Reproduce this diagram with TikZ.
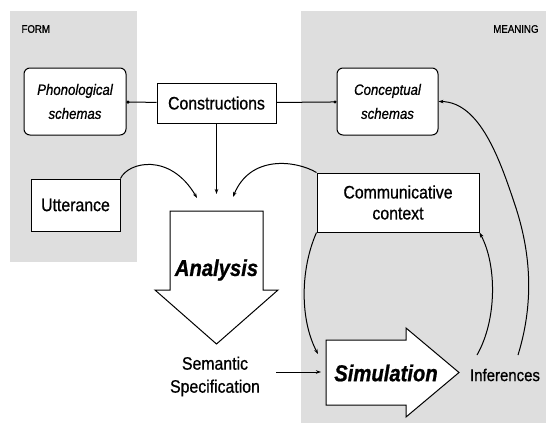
\documentclass[tikz,border=0pt]{standalone}
\usepackage{fontspec}
\setmainfont{Liberation Sans}[FakeStretch=0.88, FakeBold=0.8]
\usetikzlibrary{arrows.meta}

\begin{document}
\begin{tikzpicture}[x=1pt, y=-1pt, inner sep=1pt, line width=1pt, >={Stealth[length=5pt, width=3.5pt]}]
		\tikzstyle{every node}=[align=center]
		\tikzstyle{region}=[fill=black!13]
		\tikzstyle{box}=[draw, fill=white]
		\tikzstyle{schema}=[box, rounded corners=6pt, font=\fontsize{15}{24}\selectfont\itshape]
		\tikzstyle{plain}=[font=\fontsize{18}{21}\selectfont]
		\tikzstyle{big}=[font=\fontsize{23}{23}\selectfont\bfseries\itshape]
		\tikzstyle{small}=[font=\fontsize{11}{11}\selectfont]
			\useasboundingbox (0,0) rectangle (548,423);
			% form and meaning
			\fill[region] (10,11) rectangle (137,262);
			\fill[region] (301,11) rectangle (546,423);
			\node[small, anchor=west] (form) at (20,29) {FORM};
			\node[small, anchor=east] (meaning) at (540,29) {MEANING};

			\node[schema, minimum width=102, minimum height=67] (phon) at (75,101.5) {Phonological\\schemas};
			\node[box, plain, minimum width=119, minimum height=40] (constr) at (216.5,103) {Constructions};
			\node[schema, minimum width=101, minimum height=67] (concept) at (387.5,101.5) {Conceptual\\schemas};
			\node[box, plain, minimum width=89, minimum height=52] (utter) at (75.5,205) {Utterance};
			\node[box, plain, minimum width=162, minimum height=59] (context) at (398,202.5) {Communicative\\context};

			% big arrows
			\draw[fill=white, line join=miter] (170,211) -- (263,211) -- (263,290) -- (278,290) -- (216.5,344) -- (155,290) -- (170,290) -- cycle;
			\node[big] (analysis) at (216.5,270) {Analysis};
			\draw[fill=white, line join=miter] (326,340) -- (406,340) -- (406,328) -- (459,372.5) -- (406,417) -- (406,405) -- (326,405) -- cycle;
			\node[big] (simulation) at (386,373) {Simulation};

			\node[plain, font=\fontsize{18}{23}\selectfont] (sem) at (215,376.5) {Semantic\\Specification};
			\node[plain, font=\fontsize{17}{17}\selectfont] (infer) at (505,375) {Inferences};

			\coordinate (antop) at (216.5,194);
			\coordinate (anleft) at (197,198);
			\coordinate (anright) at (233,197);
			\coordinate (semout) at (276,372);
			\coordinate (simleft) at (321,372);
			\coordinate (simtop) at (318,354);
			\coordinate (infleft) at (477,355);
			\coordinate (infright) at (518,355);

			\draw[-{Circle[length=3pt]}] (constr) -- (phon);
			\draw[-{Circle[length=3pt]}] (constr) -- (concept);
			\draw[->] (constr) -- (antop);
			\draw[->] (utter.north east) .. controls (128,162) and (170,152) .. (anleft);
			\draw[->] (context.north west) .. controls (295,160) and (250,155) .. (anright);
			\draw[->] (semout) -- (simleft);
			\draw[->] (context.south west) .. controls (300,270) and (300,320) .. (simtop);
			\draw[->] (infleft) .. controls (497,320) and (497,265) .. (context.south east);
			\draw[->] (infright) .. controls (535,300) and (530,250) .. (515,205) .. controls (500,160) and (480,102) .. (concept.east);
		\end{tikzpicture}
\end{document}
